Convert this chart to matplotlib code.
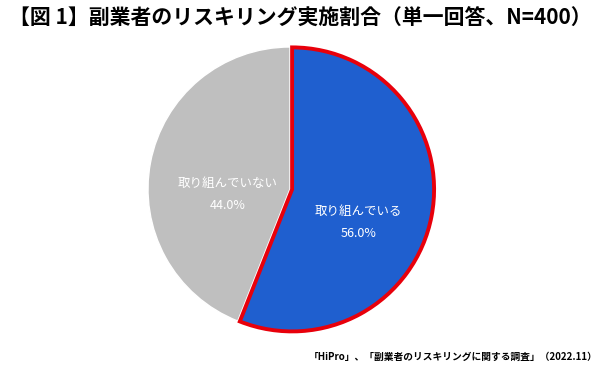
import matplotlib
matplotlib.use("Agg")
import matplotlib.pyplot as plt

plt.rcParams['font.family'] = ['Noto Sans CJK JP', 'DejaVu Sans']

categories = ["取り組んでいる", "取り組んでいない"]
values = [56.0, 44.0]
title = "【図 1】副業者のリスキリング実施割合（単一回答、N=400）"
source = "「HiPro」、「副業者のリスキリングに関する調査」（2022.11）"

W, H = 615, 382
fig = plt.figure(figsize=(W/100, H/100), dpi=100)
cx, cy, r = 290, 189, 142
ax = fig.add_axes([(cx-r)/W, (H-cy-r)/H, 2*r/W, 2*r/H])

colors = ["#1F5FCF", "#BFBFBF"]
wedges, _ = ax.pie(values, colors=colors, startangle=90, counterclock=False,
                   explode=[0.015, 0], radius=1.0,
                   wedgeprops=dict(linewidth=1, edgecolor="white"))
wedges[0].set_edgecolor("#E8000B")
wedges[0].set_linewidth(2.8)
wedges[0].set_zorder(3)
ax.set_xlim(-1, 1)
ax.set_ylim(-1, 1)
ax.set_aspect('equal')
ax.axis('off')

label_pos = [(0.48, -0.236), (-0.44, -0.04)]
for (x, y), c, v in zip(label_pos, categories, values):
    ax.text(x, y + 0.077, c, ha='center', va='center', color='white', fontsize=9, zorder=5)
    ax.text(x, y - 0.077, f"{v:.1f}%", ha='center', va='center', color='white', fontsize=9, zorder=5)

fig.text(300/W, 1 - 18/H, title, ha='center', va='center', fontsize=15, fontweight='bold')
fig.text(598/W, 1 - 357/H, source, ha='right', va='center', fontsize=7, fontweight='bold')

fig.savefig("out.png", dpi=100, facecolor="white")
